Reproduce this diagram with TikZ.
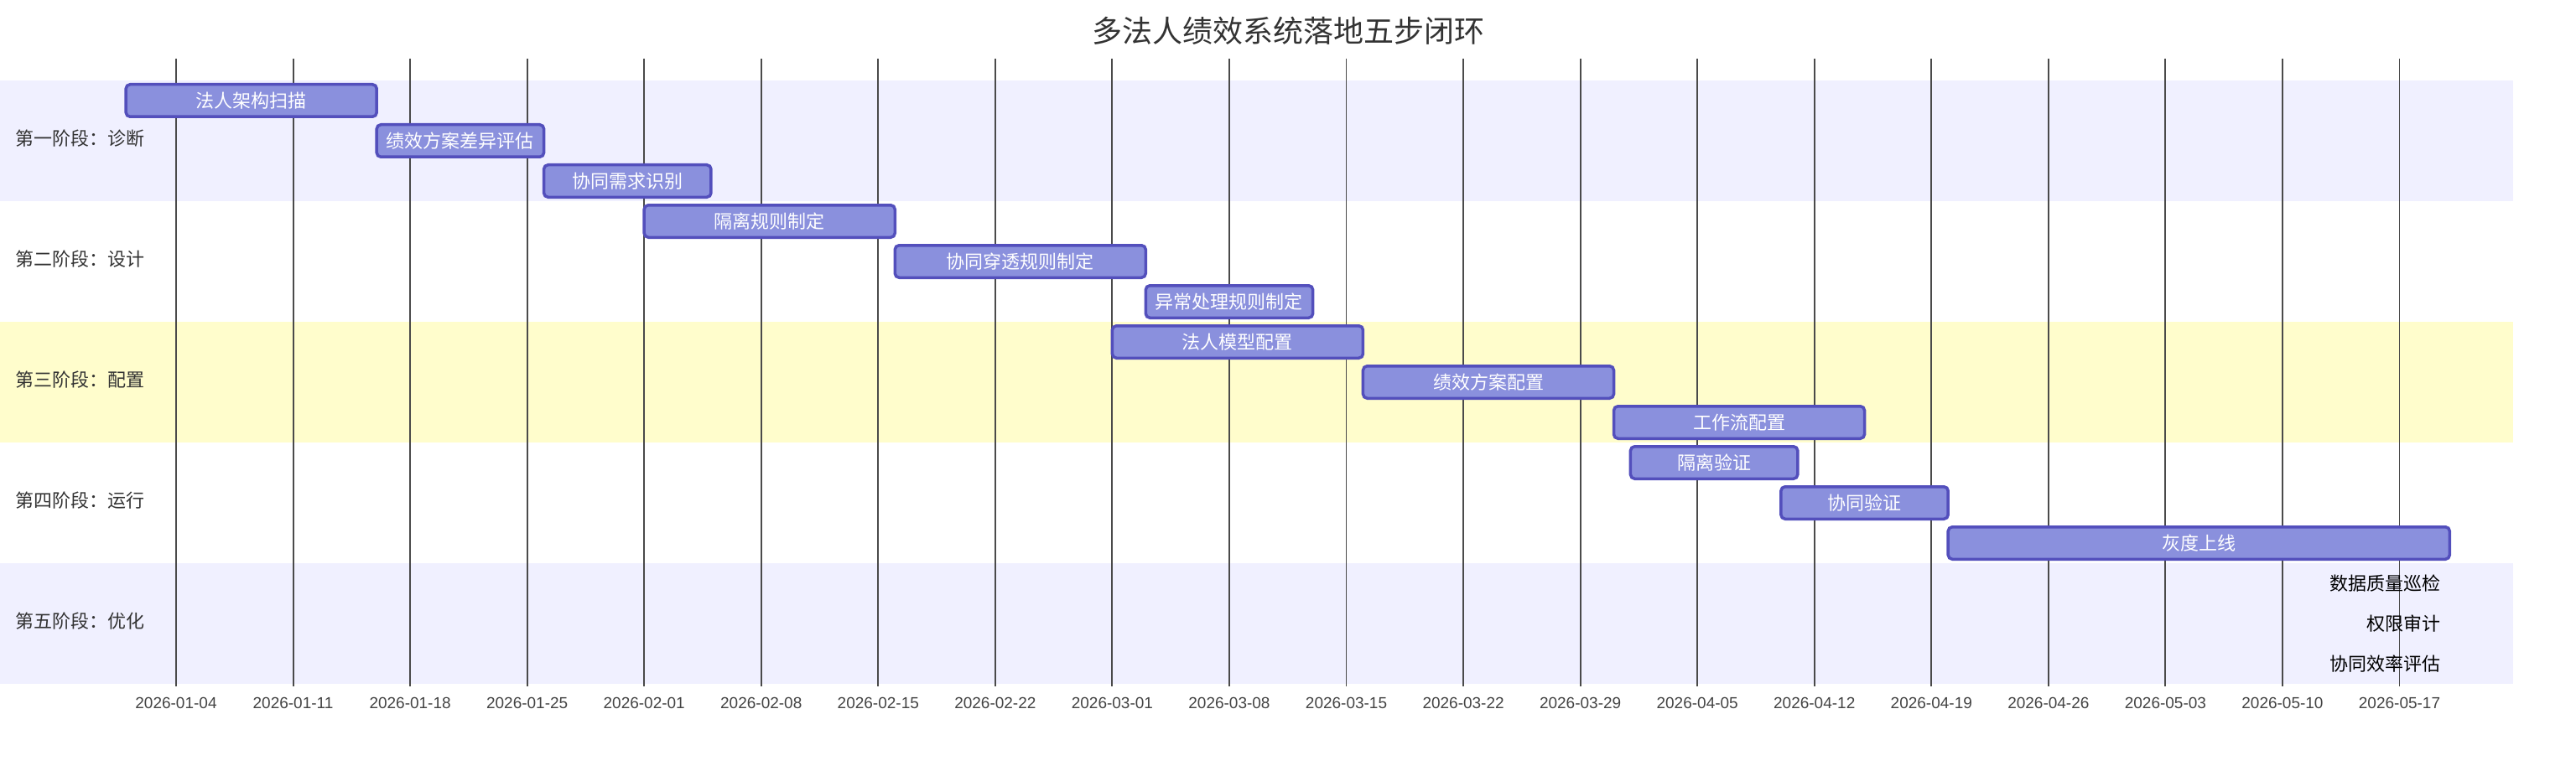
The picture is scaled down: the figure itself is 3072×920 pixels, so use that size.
\documentclass[tikz,border=0pt]{standalone}
\usepackage{fontspec}
\setmainfont{Noto Sans CJK SC}
\newfontfamily\tickfont{Liberation Sans}
\usepackage{xcolor}
\usetikzlibrary{positioning}

\definecolor{bandblue}{HTML}{F0F0FF}
\definecolor{bandyellow}{HTML}{FFFDCC}
\definecolor{taskfill}{HTML}{8A90DD}
\definecolor{taskline}{HTML}{534FBC}
\definecolor{gridgray}{HTML}{4A4A4A}
\definecolor{labelgray}{HTML}{333333}
\definecolor{tickgray}{HTML}{444444}
\newcommand{\dayw}{19.936}

\begin{document}
\begin{tikzpicture}[
    x=1pt, y=-1pt,
    task/.style={rectangle, draw=taskline, fill=taskfill, line width=3.5pt, rounded corners=5pt, minimum height=38.5pt, inner sep=0pt, outer sep=0pt, anchor=west, text=white, font=\fontsize{22}{24}\selectfont},
    outside/.style={anchor=east, inner sep=0pt, text=black, font=\fontsize{22}{24}\selectfont},
    phaselabel/.style={anchor=west, inner sep=0pt, text=labelgray, font=\fontsize{22}{24}\selectfont},
    gridline/.style={draw=gridgray, line width=1.9pt},
    ticklabel/.style={text=tickgray, inner sep=0pt, font=\tickfont\fontsize{19}{22}\selectfont}
]
\useasboundingbox (0,0) rectangle (3072,920);

% section bands
\fill[bandblue] (0,96) rectangle (2997,240);
\fill[bandyellow] (0,384) rectangle (2997,528);
\fill[bandblue] (0,672) rectangle (2997,816);

% weekly grid and dates
\foreach \lbl [count=\i from 0] in {2026-01-04,2026-01-11,2026-01-18,2026-01-25,2026-02-01,2026-02-08,2026-02-15,2026-02-22,2026-03-01,2026-03-08,2026-03-15,2026-03-22,2026-03-29,2026-04-05,2026-04-12,2026-04-19,2026-04-26,2026-05-03,2026-05-10,2026-05-17} {
    \coordinate (g\i) at ({210+7*\i*\dayw},70);
    \draw[gridline] (g\i) -- ++(0,749);
    \node[ticklabel] (t\i) at ({210+7*\i*\dayw},839) {\lbl};
}

\node[text=labelgray, font=\fontsize{36}{40}\selectfont] (title) at (1536,37) {多法人绩效系统落地五步闭环};

\node[phaselabel] (ph1) at (18,165) {第一阶段：诊断};
\node[phaselabel] (ph2) at (18,309) {第二阶段：设计};
\node[phaselabel] (ph3) at (18,453) {第三阶段：配置};
\node[phaselabel] (ph4) at (18,597) {第四阶段：运行};
\node[phaselabel] (ph5) at (18,741) {第五阶段：优化};

% tasks
\node[task, minimum width=15*\dayw pt] (scan) at ({210+(-3)*\dayw},120) {法人架构扫描};
\node[task, minimum width=10*\dayw pt] (diff) at ({210+12*\dayw},168) {绩效方案差异评估};
\node[task, minimum width=10*\dayw pt] (needs) at ({210+22*\dayw},216) {协同需求识别};
\node[task, minimum width=15*\dayw pt] (isorule) at ({210+28*\dayw},264) {隔离规则制定};
\node[task, minimum width=15*\dayw pt] (penrule) at ({210+43*\dayw},312) {协同穿透规则制定};
\node[task, minimum width=10*\dayw pt] (excrule) at ({210+58*\dayw},360) {异常处理规则制定};
\node[task, minimum width=15*\dayw pt] (model) at ({210+56*\dayw},408) {法人模型配置};
\node[task, minimum width=15*\dayw pt] (plancfg) at ({210+71*\dayw},456) {绩效方案配置};
\node[task, minimum width=15*\dayw pt] (flowcfg) at ({210+86*\dayw},504) {工作流配置};
\node[task, minimum width=10*\dayw pt] (isotest) at ({210+87*\dayw},552) {隔离验证};
\node[task, minimum width=10*\dayw pt] (cotest) at ({210+96*\dayw},600) {协同验证};
\node[task, minimum width=30*\dayw pt] (rollout) at ({210+106*\dayw},648) {灰度上线};

\node[outside] (dq) at (2911,696) {数据质量巡检};
\node[outside] (audit) at (2911,744) {权限审计};
\node[outside] (effeval) at (2911,792) {协同效率评估};
\end{tikzpicture}
\end{document}
